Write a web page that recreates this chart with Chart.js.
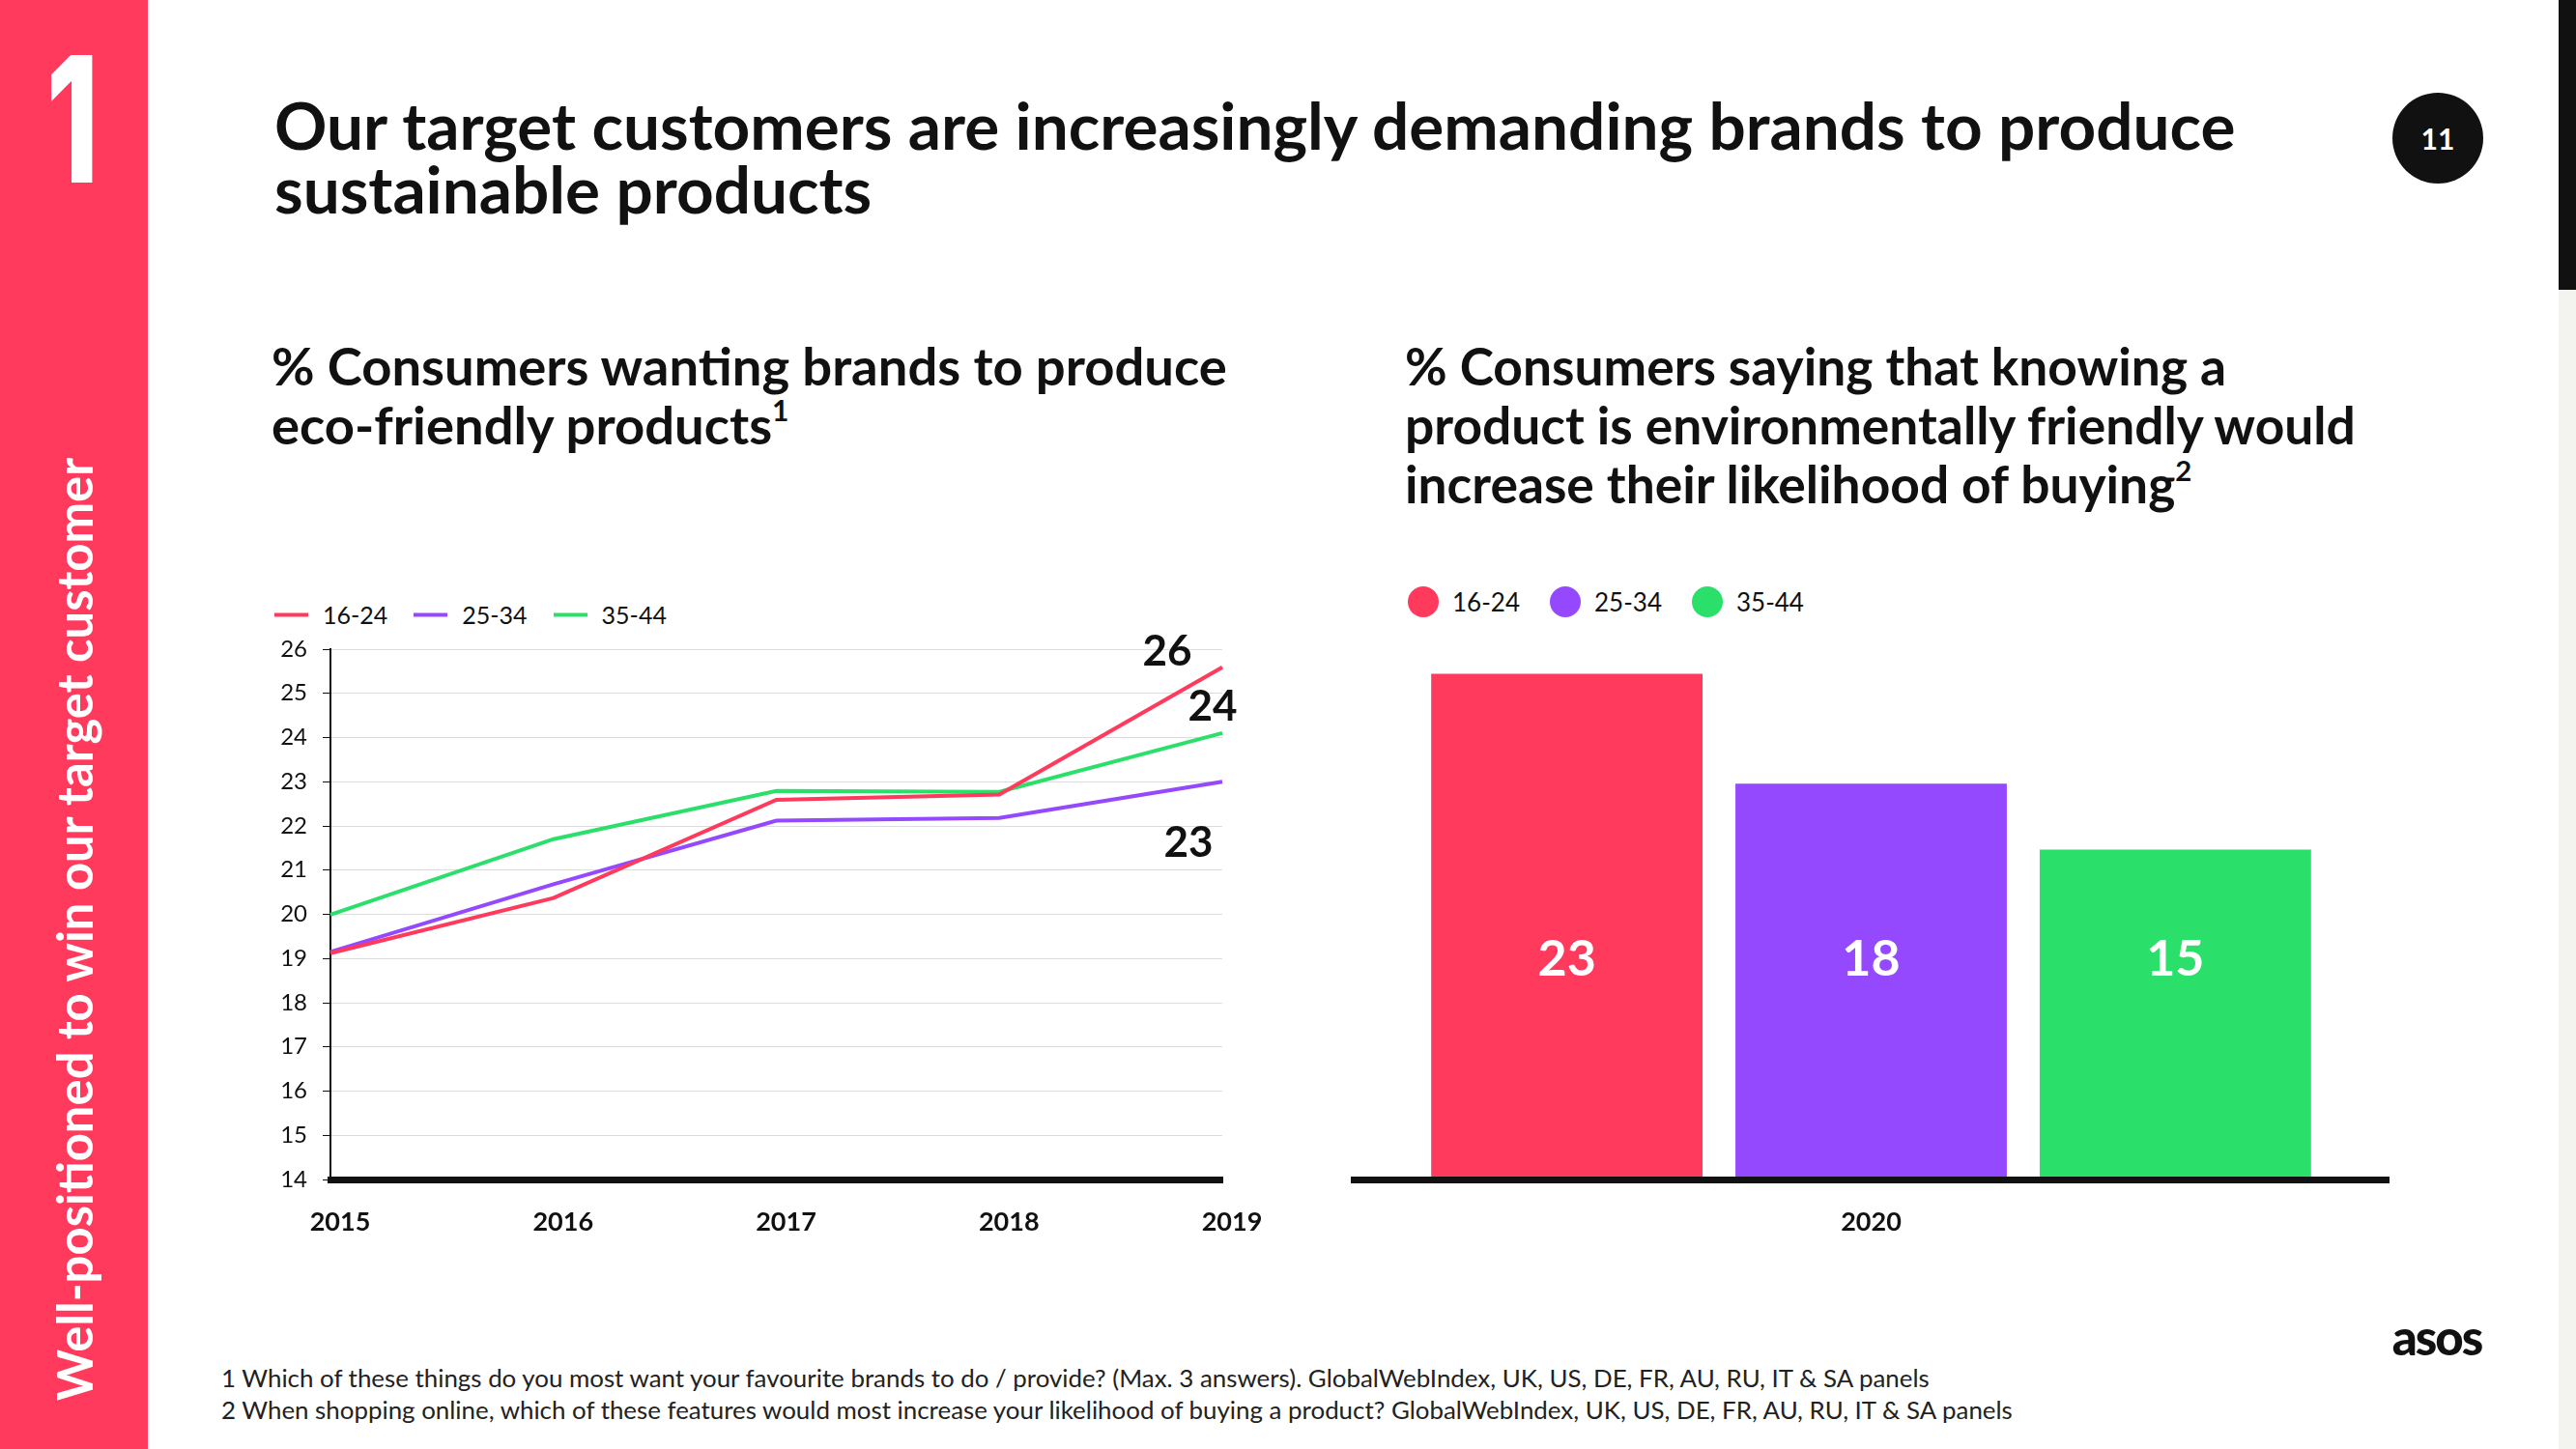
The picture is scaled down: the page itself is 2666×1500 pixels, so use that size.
<!DOCTYPE html>
<html lang="en">
<head>
<meta charset="utf-8">
<title>Our target customers are increasingly demanding brands to produce sustainable products</title>
<script src="https://cdn.jsdelivr.net/npm/chart.js@4.4.1/dist/chart.umd.min.js"></script>
<style>
  * { box-sizing: border-box; }
  body { margin: 0; width: 2666px; height: 1500px; position: relative; overflow: hidden; background: #fff; color: #111; font-family: Lato, 'Noto Sans', sans-serif; }
  .abs { position: absolute; white-space: nowrap; }
  .side { left: 0; top: 0; width: 153px; height: 1500px; background: #ff3a5c; }
  .side-num { left: 75px; top: 123px; transform: translate(-50%, -50%) scaleX(0.68); font: 800 182px/1 Inter, sans-serif; color: #fff; }
  .side-txt { left: 77px; top: 962px; transform: translate(-50%, -50%) rotate(-90deg); font: 700 52px/1 Lato, sans-serif; color: #fff; }
  .title { left: 284px; top: 96px; font-weight: 700; font-size: 60px; line-height: 66px; }
  .sub { top: 348px; font-weight: 700; font-size: 44px; line-height: 61px; }
  .sup { font-size: .55em; position: relative; top: -.8em; }
  .page-no { left: 2476px; top: 96px; width: 94px; height: 94px; border-radius: 50%; background: #111; color: #fff; font: 700 30px/94px Lato, sans-serif; text-align: center; }
  .strip { left: 2648px; top: 0; width: 18px; height: 1500px; background: #f3f3ef; }
  .strip-dark { left: 2648px; top: 0; width: 18px; height: 300px; background: #111; }
  .legend { display: flex; align-items: center; line-height: 1; transform: translateY(-50%); }
  .legend__item { display: flex; align-items: center; }
  .notes { left: 229px; top: 1410px; font-size: 25px; line-height: 33px; color: #222; }
  .logo { left: 2522px; top: 1383px; transform: translate(-50%, -50%); font: 900 51px/1 Lato, sans-serif; letter-spacing: -2px; }
  canvas { position: absolute; }
</style>
</head>
<body>
  <div class="abs side"></div>
  <div class="abs side-num">1</div>
  <div class="abs side-txt" data-w="976">Well-positioned to win our target customer</div>

  <div class="abs title" data-w="2030">
    <div>Our target customers are increasingly demanding brands to produce</div>
    <div>sustainable products</div>
  </div>
  <div class="abs page-no">11</div>
  <div class="abs strip"></div>
  <div class="abs strip-dark"></div>

  <div class="abs sub" style="left:281px" data-w="989">
    <div>% Consumers wanting brands to produce</div>
    <div>eco-friendly products<span class="sup">1</span></div>
  </div>
  <div class="abs sub" style="left:1454px" data-w="984">
    <div>% Consumers saying that knowing a</div>
    <div>product is environmentally friendly would</div>
    <div>increase their likelihood of buying<span class="sup">2</span></div>
  </div>

  <div class="abs legend" id="js-line-legend" style="left:284px; top:636px; font-size:25px"></div>
  <div class="abs legend" id="js-bar-legend" style="left:1457px; top:623px; font-size:26px"></div>

  <canvas id="js-eco-line" width="1080" height="660" style="left:260px; top:640px"></canvas>
  <canvas id="js-eco-bar" width="1120" height="660" style="left:1380px; top:640px"></canvas>

  <div class="abs notes" data-w="1854">
    <div>1 Which of these things do you most want your favourite brands to do / provide? (Max. 3 answers). GlobalWebIndex, UK, US, DE, FR, AU, RU, IT &amp; SA panels</div>
    <div>2 When shopping online, which of these features would most increase your likelihood of buying a product? GlobalWebIndex, UK, US, DE, FR, AU, RU, IT &amp; SA panels</div>
  </div>
  <div class="abs logo">asos</div>

<script>
  /* ━━━━  DATA  ━━━━ */
  const YEARS        = ['2015', '2016', '2017', '2018', '2019'];
  const AGE_GROUPS   = ['16-24', '25-34', '35-44'];
  const ECO_16_24    = [19.12, 20.37, 22.59, 22.71, 25.59];
  const ECO_25_34    = [19.15, 20.68, 22.12, 22.18, 23.00];
  const ECO_35_44    = [19.99, 21.70, 22.79, 22.77, 24.10];
  const END_LABELS   = ['26', '23', '24'];
  const Y_MIN        = 14;
  const Y_MAX        = 26;

  const BAR_YEAR     = ['2020'];
  const LIKELY_16_24 = [23];
  const LIKELY_25_34 = [18];
  const LIKELY_35_44 = [15];

  /* ━━━━  STYLE  ━━━━ */
  const FONT   = "Lato, 'Noto Sans', sans-serif";
  const COLORS = ['#ff3a5c', '#9549ff', '#2be06a'];
  const INK    = '#111';
  const END_LABEL_SHIFT = [[-57, -16], [-35, 64], [-10, -27]];  // px from last point

  const getEl = id => document.getElementById(id);

  /* shrink / grow text blocks to the width they take on the slide */
  function fitText() {
    document.querySelectorAll('[data-w]').forEach(el => {
      const fs = parseFloat(getComputedStyle(el).fontSize);
      el.style.fontSize = (fs * el.dataset.w / el.offsetWidth).toFixed(2) + 'px';
    });
  }

  function buildLegend(id, dot) {
    const box = getEl(id);
    AGE_GROUPS.forEach((name, i) => {
      const item = document.createElement('span');
      item.className = 'legend__item';
      item.style.marginRight = dot ? '31px' : '27px';
      const sw = document.createElement('span');
      sw.style.background = COLORS[i];
      sw.style.marginRight = dot ? '14px' : '15px';
      sw.style.width = dot ? '32px' : '35px';
      sw.style.height = dot ? '32px' : '4px';
      if (dot) sw.style.borderRadius = '50%';
      item.appendChild(sw);
      item.appendChild(document.createTextNode(name));
      box.appendChild(item);
    });
  }

  /* value labels next to the line ends */
  const endLabels = {
    id: 'endLabels',
    afterDatasetsDraw(chart) {
      const ctx = chart.ctx;
      ctx.save();
      ctx.font = `bold 44px ${FONT}`;
      ctx.fillStyle = INK;
      ctx.textAlign = 'center';
      ctx.textBaseline = 'middle';
      chart.data.datasets.forEach((ds, i) => {
        const pts = chart.getDatasetMeta(i).data;
        const p = pts[pts.length - 1];
        ctx.fillText(END_LABELS[i], p.x + END_LABEL_SHIFT[i][0], p.y + END_LABEL_SHIFT[i][1]);
      });
      ctx.restore();
    }
  };

  /* white numbers inside the bars */
  const barValues = {
    id: 'barValues',
    afterDatasetsDraw(chart, args, opts) {
      const ctx = chart.ctx;
      const y = chart.scales.y.getPixelForValue(opts.level);
      ctx.save();
      ctx.font = `bold 52px ${FONT}`;
      ctx.fillStyle = '#fff';
      ctx.textAlign = 'center';
      ctx.textBaseline = 'middle';
      chart.data.datasets.forEach((ds, i) => {
        chart.getDatasetMeta(i).data.forEach((bar, j) => ctx.fillText(ds.data[j], bar.x, y));
      });
      ctx.restore();
    }
  };

  function drawLineChart() {
    const series = [ECO_16_24, ECO_25_34, ECO_35_44];
    new Chart(getEl('js-eco-line').getContext('2d'), {
      type: 'line',
      data: {
        labels: YEARS,
        datasets: series.map((d, i) => ({
          label: AGE_GROUPS[i],
          data: d,
          borderColor: COLORS[i],
          backgroundColor: COLORS[i],
          borderWidth: 4,
          pointRadius: 0,
          tension: 0
        }))
      },
      options: {
        responsive: false,
        animation: false,
        devicePixelRatio: 1,
        layout: { padding: { top: 32, right: 75, bottom: 0, left: 0 } },
        plugins: { legend: { display: false }, tooltip: { enabled: false } },
        scales: {
          x: {
            grid: { display: false, drawTicks: false },
            border: { color: INK, width: 7, z: 1 },
            ticks: { color: INK, font: { family: FONT, size: 27, weight: 'bold' }, padding: 28, maxRotation: 0, labelOffset: 10 },
            afterFit: s => { s.height = 79; }
          },
          y: {
            min: Y_MIN,
            max: Y_MAX,
            grid: { color: '#dcdcdc', lineWidth: 1, tickColor: INK, tickLength: 8 },
            border: { color: INK, width: 2 },
            ticks: { stepSize: 1, color: INK, font: { family: FONT, size: 24 }, padding: 16 },
            afterFit: s => { s.width = 82; }
          }
        }
      },
      plugins: [endLabels]
    });
  }

  function drawBarChart() {
    const series = [LIKELY_16_24, LIKELY_25_34, LIKELY_35_44];
    new Chart(getEl('js-eco-bar').getContext('2d'), {
      type: 'bar',
      data: {
        labels: BAR_YEAR,
        datasets: series.map((d, i) => ({
          label: AGE_GROUPS[i],
          data: d,
          backgroundColor: COLORS[i],
          categoryPercentage: 0.882,
          barPercentage: 0.892
        }))
      },
      options: {
        responsive: false,
        animation: false,
        devicePixelRatio: 1,
        layout: { padding: { top: 12, right: 28, bottom: 0, left: 21 } },
        plugins: { legend: { display: false }, tooltip: { enabled: false }, barValues: { level: 10 } },
        scales: {
          x: {
            grid: { display: false, drawTicks: false },
            border: { color: INK, width: 7, z: 1 },
            ticks: { color: INK, font: { family: FONT, size: 27, weight: 'bold' }, padding: 28 },
            afterFit: s => { s.height = 79; }
          },
          y: { display: false, min: 0, max: 25 }
        }
      },
      plugins: [barValues]
    });
  }

  /* ━━━━  INIT  ━━━━ */
  Chart.defaults.font.family = FONT;
  fitText();
  buildLegend('js-line-legend', false);
  buildLegend('js-bar-legend', true);
  drawLineChart();
  drawBarChart();
</script>
</body>
</html>
